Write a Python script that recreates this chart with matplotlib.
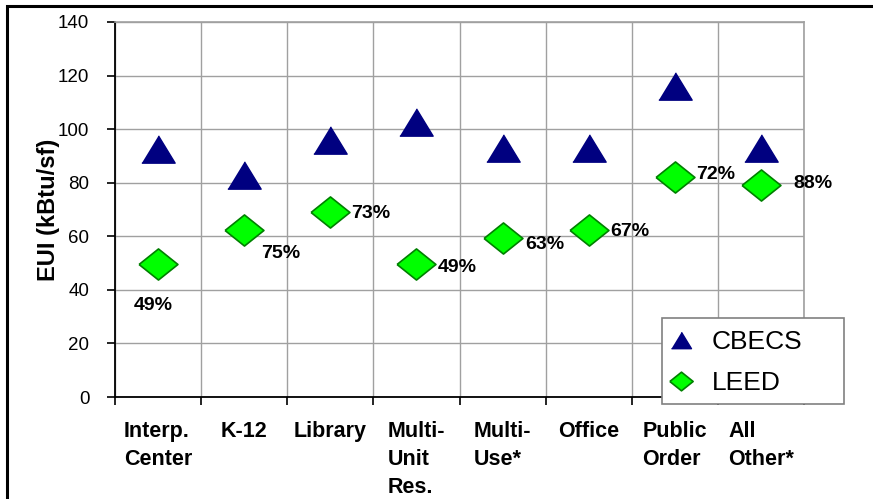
import numpy as np
import matplotlib
matplotlib.use("Agg")
import matplotlib.pyplot as plt
from matplotlib.patches import Rectangle

plt.rcParams['font.family'] = ['Liberation Sans', 'DejaVu Sans']

categories = ["Interp.\nCenter", "K-12", "Library", "Multi-\nUnit\nRes.",
              "Multi-\nUse*", "Office", "Public\nOrder", "All\nOther*"]
cbecs = [92.5, 83, 96, 102.5, 93, 93, 116, 93]
leed = [49.5, 62.5, 69, 49.5, 59.5, 62.5, 82, 79]
pct_labels = ["49%", "75%", "73%", "49%", "63%", "67%", "72%", "88%"]
# label offsets from each diamond, in pixels (dx, dy)
label_offsets = [(-5, -41), (37, -24), (40, -1), (41, -3), (42, -7), (41, -2), (41, 3), (52, 2)]

tri = [(-1, -0.82), (1, -0.82), (0, 0.82)]
dia = [(-1, 0), (0, 0.8), (1, 0), (0, -0.8), (-1, 0)]

fig = plt.figure(figsize=(8.73, 4.99), dpi=100)
ax = fig.add_axes([115/873, 1-397/499, 689/873, 375/499])

x = np.arange(len(categories))
ax.plot(x, cbecs, linestyle='none', marker=tri, markersize=24,
        color='#000080', markeredgecolor='#000080', label='CBECS', zorder=3)
ax.plot(x, leed, linestyle='none', marker=dia, markersize=28,
        markerfacecolor='#00ff00', markeredgecolor='#008000', markeredgewidth=1.2,
        label='LEED', zorder=3)

for xi, yi, t, off in zip(x, leed, pct_labels, label_offsets):
    ax.annotate(t, (xi, yi), xytext=off, textcoords='offset pixels',
                ha='center', va='center', fontsize=14, fontweight='bold', zorder=4)

ax.set_xlim(-0.5, len(categories) - 0.5)
ax.set_ylim(0, 140)
ax.set_yticks(np.arange(0, 141, 20))
ax.set_xticks(np.arange(-0.5, len(categories), 1))
ax.set_xticklabels([])
ax.set_xticks(x, minor=True)
ax.set_xticklabels(categories, minor=True, fontsize=15.5, fontweight='bold',
                   multialignment='left', linespacing=1.46, va='top')
ax.tick_params(axis='x', which='minor', length=0, pad=17)
ax.tick_params(axis='x', which='major', direction='out', length=6, width=1.2, color='black')
ax.tick_params(axis='y', direction='out', length=5.5, width=1.2, labelsize=13.5, pad=13)

ax.grid(True, which='major', color='#a0a0a0', linewidth=1)
ax.set_axisbelow(True)
for s in ['top', 'right']:
    ax.spines[s].set_color('#a0a0a0')
    ax.spines[s].set_linewidth(1.2)
for s in ['left', 'bottom']:
    ax.spines[s].set_color('black')
    ax.spines[s].set_linewidth(1.3)

ax.set_ylabel('EUI (kBtu/sf)', fontsize=17, fontweight='bold')
ax.yaxis.set_label_coords(-0.08, 0.5)

# legend frame drawn separately (Excel-style wide box)
fig.patches.append(Rectangle((662/873, 1-404/499), 182/873, 86/499, transform=fig.transFigure,
                             facecolor='white', edgecolor='#808080', linewidth=1.2, zorder=5))
leg = fig.legend(loc='upper left', bbox_to_anchor=(670/873, 1-330/499),
                 fontsize=19, markerscale=0.6, frameon=False, borderpad=0,
                 labelspacing=0.66, handletextpad=0.74, handlelength=0.85,
                 borderaxespad=0)
leg.set_zorder(6)

fig.patches.append(Rectangle((7/873, -0.1), 1.2, 1.1 - 6/499, transform=fig.transFigure,
                             fill=False, edgecolor='black', linewidth=2.2))

fig.savefig('out.png', dpi=100)
